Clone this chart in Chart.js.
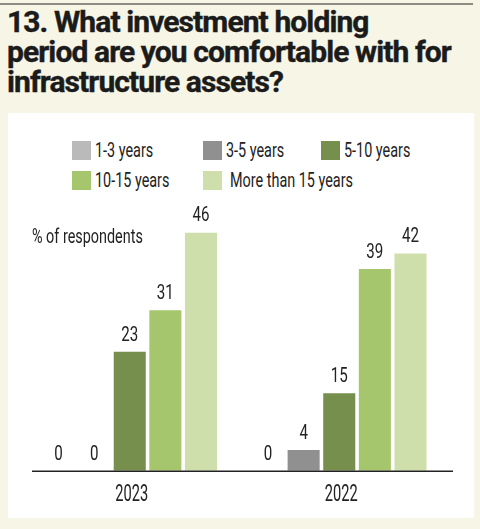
<!DOCTYPE html>
<html>
<head>
<meta charset="utf-8">
<script src="https://cdn.jsdelivr.net/npm/chart.js@4"></script>
<style>
  html, body { margin: 0; padding: 0; }
  body { width: 480px; height: 529px; background: #f7f5e6; position: relative; overflow: hidden; }
  .rule { position: absolute; left: 0; top: 3px; width: 473px; height: 2px; background: #8d8c82; }
  h1 { position: absolute; left: 7px; top: 7px; margin: 0; font: bold 30px/30px Roboto, sans-serif; letter-spacing: -0.9px; color: #1b1b1b; -webkit-text-stroke: 0.4px #1b1b1b; }
  .panel { position: absolute; left: 8px; top: 113px; width: 466px; height: 405px; background: #fff; }
  #legend { position: absolute; left: 72px; top: 141px; font: 20px Roboto, sans-serif; color: #222; }
  #legend .item { position: absolute; white-space: nowrap; line-height: 19px; }
  #legend .sw { display: inline-block; width: 19px; height: 19px; vertical-align: top; }
  #legend .tx { display: inline-block; transform: scaleX(0.72); transform-origin: left center; }
  canvas { position: absolute; left: 0; top: 0; }
</style>
</head>
<body>
<div class="rule"></div>
<h1>13. What investment holding<br>period are you comfortable with for<br>infrastructure assets?</h1>
<div class="panel"></div>
<div id="legend"></div>
<canvas id="chart" width="480" height="529"></canvas>
<script>
const categories = ['2023', '2022'];
const seriesNames = ['1-3 years', '3-5 years', '5-10 years', '10-15 years', 'More than 15 years'];
const values13 = [0, 0];
const values35 = [0, 4];
const values510 = [23, 15];
const values1015 = [31, 39];
const values15plus = [46, 42];
const colors = ['#b9bab9', '#8f908f', '#778f4d', '#a6c66d', '#cfdfac'];

const seriesValues = [values13, values35, values510, values1015, values15plus];
const FONT = 'Roboto, sans-serif';
const SQUEEZE = 0.72;

// legend laid out in the original's two rows
const legendPos = [[0, 0], [131, 0], [249, 0], [0, 30], [131, 30]];
const legend = document.getElementById('legend');
seriesNames.forEach((name, i) => {
  const d = document.createElement('div');
  d.className = 'item';
  d.style.left = legendPos[i][0] + 'px';
  d.style.top = legendPos[i][1] + 'px';
  const gap = i === 4 ? 8 : 4;
  d.innerHTML = '<span class="sw" style="background:' + colors[i] + '"></span><span class="tx" style="margin-left:' + gap + 'px">' + name + '</span>';
  legend.appendChild(d);
});

function narrowText(ctx, text, x, y, k) {
  ctx.save();
  ctx.translate(x, y);
  ctx.scale(k || SQUEEZE, 1);
  ctx.fillText(text, 0, 0);
  ctx.restore();
}

const valueLabels = {
  id: 'valueLabels',
  afterDatasetsDraw(chart) {
    const ctx = chart.ctx;
    const area = chart.chartArea;
    ctx.save();
    // baseline runs a little past the plot area, as in the original
    ctx.strokeStyle = '#222';
    ctx.lineWidth = 1.5;
    ctx.beginPath();
    ctx.moveTo(area.left + 7, area.bottom + 0.5);
    ctx.lineTo(area.right + 9, area.bottom + 0.5);
    ctx.stroke();

    ctx.fillStyle = '#222';
    ctx.font = '21px ' + FONT;
    ctx.textAlign = 'center';
    ctx.textBaseline = 'bottom';
    chart.data.datasets.forEach((ds, i) => {
      chart.getDatasetMeta(i).data.forEach((bar, j) => {
        narrowText(ctx, ds.data[j], bar.x, bar.y - 6);
      });
    });
    // category labels, narrow like the original
    const xs = chart.scales.x;
    ctx.font = '24px ' + FONT;
    ctx.textBaseline = 'middle';
    chart.data.labels.forEach((lab, i) => {
      narrowText(ctx, lab, xs.getPixelForTick(i) + 2, xs.top + 24, 0.61);
    });
    ctx.font = '20px ' + FONT;
    ctx.textAlign = 'left';
    narrowText(ctx, '% of respondents', 32, 238);
    ctx.restore();
  }
};

new Chart(document.getElementById('chart'), {
  type: 'bar',
  data: {
    labels: categories,
    datasets: seriesNames.map((name, i) => ({
      label: name,
      data: seriesValues[i],
      backgroundColor: colors[i],
      borderWidth: 0,
      categoryPercentage: 0.85,
      barPercentage: 0.9,
    })),
  },
  options: {
    responsive: false,
    animation: false,
    layout: { padding: { left: 25, right: 36, top: 212, bottom: 9 } },
    plugins: {
      legend: { display: false },
      tooltip: { enabled: false },
    },
    scales: {
      x: {
        grid: { display: false, drawTicks: false },
        border: { display: false },
        ticks: { color: 'rgba(0,0,0,0)', font: { family: FONT, size: 21 }, padding: 12 },
      },
      y: {
        display: false,
        min: 0,
        max: 50,
      },
    },
  },
  plugins: [valueLabels],
});
</script>
</body>
</html>
